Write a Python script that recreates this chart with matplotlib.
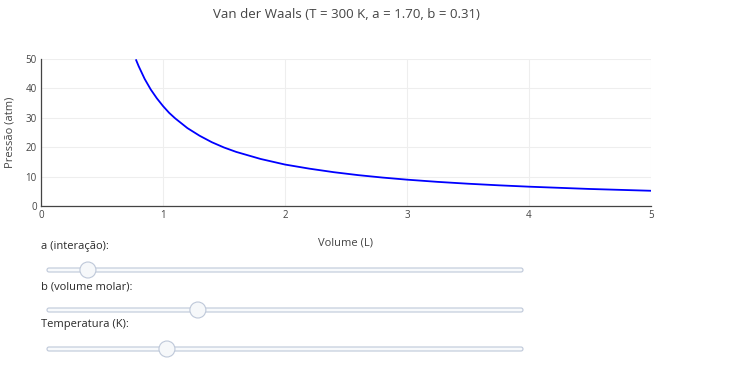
import matplotlib.pyplot as plt
from matplotlib.patches import FancyBboxPatch, Ellipse

plt.rcParams['font.family'] = ['Open Sans', 'DejaVu Sans']

# pressure curve (V in L, P in atm)
volume = [0.78, 0.80, 0.85, 0.90, 0.95, 1.00, 1.05, 1.10, 1.20, 1.30, 1.40, 1.50,
          1.60, 1.80, 2.00, 2.20, 2.40, 2.60, 2.80, 3.00, 3.25, 3.50, 3.75, 4.00,
          4.50, 5.00]
pressure = [49.6, 47.6, 43.2, 39.6, 36.6, 34.0, 31.7, 29.8, 26.5, 23.9, 21.7, 19.9,
            18.4, 16.0, 14.1, 12.7, 11.5, 10.5, 9.67, 8.96, 8.21, 7.58, 7.04, 6.57,
            5.79, 5.18]

title = "Van der Waals (T = 300 K, a = 1.70, b = 0.31)"
x_ticks = [0, 1, 2, 3, 4, 5]
y_ticks = [0, 10, 20, 30, 40, 50]

slider_labels = ["a (interação):", "b (volume molar):", "Temperatura (K):"]
slider_pos = [0.086, 0.317, 0.252]   # thumb position along the track

W, H = 729, 377
fig = plt.figure(figsize=(W / 100, H / 100), dpi=100)
ax = fig.add_axes([41 / W, 1 - 206 / H, 610 / W, 147 / H])

ax.plot(volume, pressure, color='#0000ff', lw=1.3)
ax.set_xlim(0, 5)
ax.set_ylim(0, 50)
ax.set_xticks(x_ticks)
ax.set_yticks(y_ticks)
ax.grid(True, color='#eeeeee', lw=0.8)
ax.set_axisbelow(True)
ax.tick_params(length=0, labelsize=7, labelcolor='#444444', pad=3)
for s in ['top', 'right']:
    ax.spines[s].set_visible(False)
for s in ['left', 'bottom']:
    ax.spines[s].set_color('#444444')
    ax.spines[s].set_linewidth(0.9)
ax.set_xlabel("Volume (L)", fontsize=8, color='#444444', labelpad=12)
ax.set_ylabel("Pressão (atm)", fontsize=8, color='#444444', labelpad=7)

fig.text(346 / W, 1 - 15 / H, title, ha='center', va='center', fontsize=9.5, color='#444444')

# sliders (drawn in figure pixels)
x0, x1 = 47, 523
label_y = [247, 287, 325]
track_y = [270, 310, 349]
for lab, ly, ty, p in zip(slider_labels, label_y, track_y, slider_pos):
    fig.text(41 / W, 1 - ly / H, lab, ha='left', va='center', fontsize=8, color='#2a2a2a')
    track = FancyBboxPatch((x0, H - ty - 2), x1 - x0, 4,
                           boxstyle="round,pad=0,rounding_size=2",
                           transform=None, facecolor='#f8fafc', edgecolor='#bec8d9', lw=0.8)
    fig.patches.append(track)
    cx = x0 + p * (x1 - x0)
    thumb = Ellipse((cx, H - ty), 16, 16, transform=None,
                    facecolor='#f6f8fa', edgecolor='#bec8d9', lw=0.8)
    fig.patches.append(thumb)

fig.savefig('out.png', dpi=100)
